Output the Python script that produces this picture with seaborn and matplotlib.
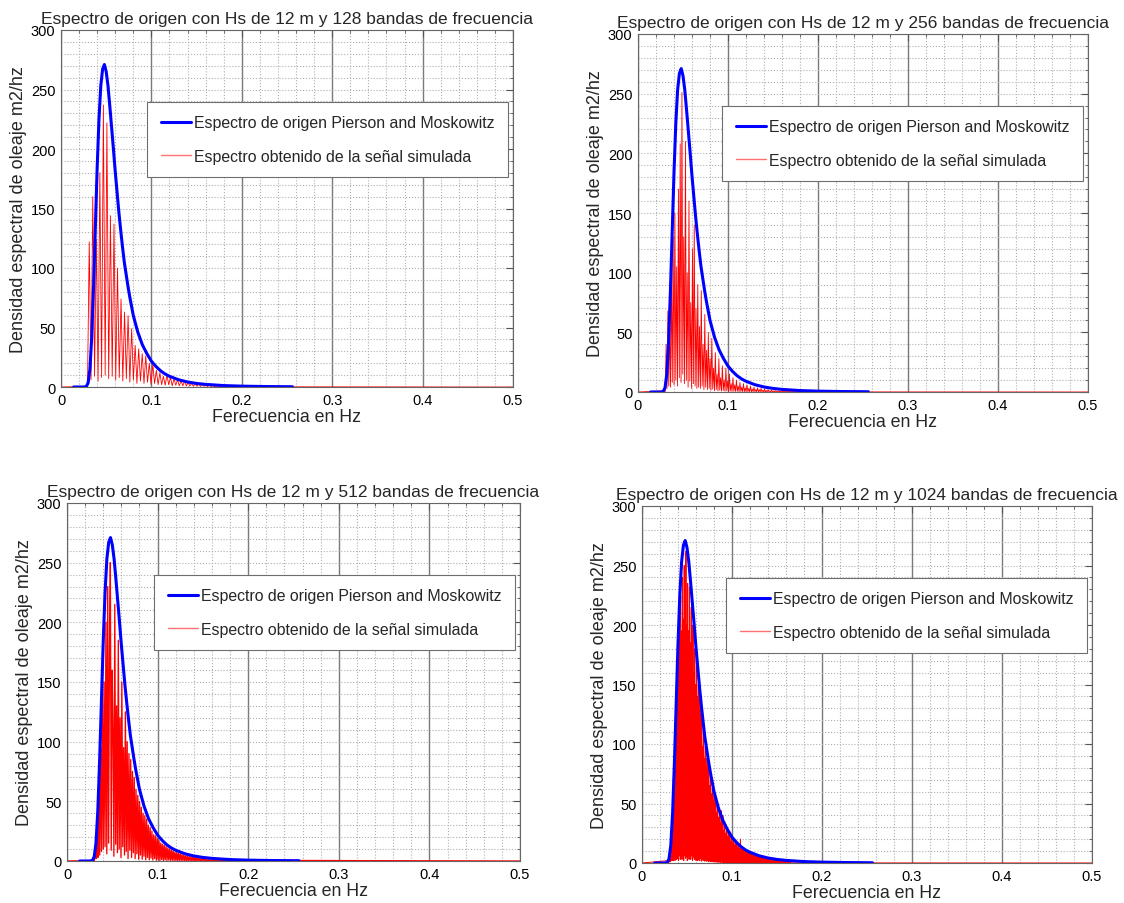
import numpy as np
import pandas as pd
import matplotlib
matplotlib.use("Agg")
import matplotlib.pyplot as plt
import seaborn as sns
from matplotlib.lines import Line2D
from matplotlib.ticker import MultipleLocator

sns.set_theme(style="white")
plt.rcParams["font.family"] = ["Liberation Sans", "DejaVu Sans"]

# Frequency axis upper limit (Nyquist) in Hz
FMAX = 0.5

# Target Pierson-Moskowitz spectrum, Hs = 12 m
pm_frec = [0.014, 0.020, 0.025, 0.028, 0.030, 0.032, 0.034, 0.036, 0.038, 0.040,
           0.042, 0.044, 0.046, 0.048, 0.050, 0.052, 0.054, 0.056, 0.058, 0.060,
           0.062, 0.064, 0.066, 0.068, 0.070, 0.072, 0.074, 0.076, 0.078, 0.080,
           0.085, 0.090, 0.095, 0.100, 0.105, 0.110, 0.115, 0.120, 0.130, 0.140,
           0.150, 0.160, 0.180, 0.200, 0.225, 0.256]
pm_dens = [0.0, 0.0, 0.0, 0.4, 3.5, 15, 42, 84, 134, 184,
           225, 253, 267, 271, 265, 253, 236, 218, 200, 181,
           164, 147, 132, 118, 105, 95, 85, 76, 68, 60,
           46, 35.5, 28, 21.7, 17.3, 13.7, 11, 9.0, 6.1, 4.2,
           3.0, 2.2, 1.2, 0.72, 0.4, 0.22]

# Simulated spectrum, 128 bands: first band index, peak and trough values
sim128_k0 = 7
sim128_picos = [0.5, 122, 160, 124, 180, 237, 222, 144, 137, 100,
                74, 63, 60, 49, 35, 32, 28, 26, 20, 19,
                14, 12, 9, 10, 8, 7, 6, 5, 5, 4,
                3, 3, 2.5, 2, 2, 1.5, 1.2, 1, 0.8, 0.6]
sim128_valles = [0.5, 6, 9, 5, 8, 10, 7, 9, 6, 8,
                 5, 7, 4, 6, 3, 5, 3, 4, 2, 3,
                 2, 2, 1.5, 2, 1, 1.5, 1, 1, 0.8, 0.8,
                 0.6, 0.6, 0.5, 0.5, 0.4, 0.4, 0.3, 0.3, 0.2, 0.2]

# Simulated spectrum, 256 bands
sim256_k0 = 15
sim256_picos = [1, 40, 68, 55, 95, 130, 150, 105, 170, 208,
                251, 130, 210, 100, 160, 75, 120, 140, 70, 90,
                55, 85, 40, 65, 35, 50, 28, 45, 20, 33,
                15, 28, 12, 22, 10, 20, 9, 15, 7, 12,
                6, 10, 5, 8, 4, 7, 3.5, 6, 3, 5,
                2.5, 4, 2, 3.5, 2, 3, 1.5, 2.5, 1.2, 2,
                1, 1.6, 0.9, 1.3, 0.8, 1.1, 0.7, 0.9, 0.6, 0.8,
                0.5, 0.7, 0.4, 0.6, 0.4, 0.5, 0.3, 0.4]
sim256_valles = [0.5, 3, 5, 4, 8, 6, 10, 5, 12, 8,
                 15, 7, 10, 4, 9, 3, 7, 5, 3, 4,
                 3, 5, 2, 4, 2, 3, 1.5, 2.5, 1, 2,
                 1, 1.5, 0.8, 1.2, 0.6, 1, 0.5, 0.8, 0.4, 0.6,
                 0.4, 0.5, 0.3, 0.4, 0.3, 0.3, 0.2, 0.3, 0.2, 0.2,
                 0.2, 0.2, 0.1, 0.2, 0.1, 0.1, 0.1, 0.1, 0.1, 0.1,
                 0.1, 0.1, 0.1, 0.1, 0.1, 0.1, 0.1, 0.1, 0.1, 0.1,
                 0.1, 0.1, 0.1, 0.1, 0.1, 0.1, 0.1, 0.1]

# Simulated spectrum, 512 bands (one value per band)
sim512_k0 = 29
sim512_dens = [0.3, 1, 0.5, 6, 2, 22, 3, 55, 5, 95,
               8, 140, 10, 150, 12, 200, 6, 230, 15, 175,
               250, 9, 160, 110, 4, 215, 14, 130, 7, 185,
               10, 120, 3, 150, 12, 95, 5, 125, 8, 100,
               2, 90, 9, 85, 3, 75, 7, 70, 2, 60,
               6, 55, 1.5, 50, 5, 45, 1.5, 40, 4, 38,
               1, 35, 3, 30, 1, 28, 2.5, 25, 0.8, 22,
               2, 21, 0.6, 19, 1.5, 17, 0.5, 15, 1.2, 14,
               0.4, 13, 1, 12, 0.4, 11, 0.8, 10, 0.3, 9,
               0.6, 8.5, 0.3, 7.5, 0.5, 7, 0.3, 6.5, 0.4, 6,
               0.2, 5.5, 0.3, 5, 0.2, 4.5, 0.3, 4, 0.2, 3.8,
               0.2, 3.5, 0.1, 3.2, 0.2, 3, 0.1, 2.7, 0.1, 2.5,
               0.1, 2.2, 0.1, 2, 0.1, 1.8, 0.1, 1.6, 0.1, 1.4,
               0.1, 1.2, 0.1, 1.0, 0.1, 0.9, 0.1, 0.8, 0.1, 0.6]

# Simulated spectrum, 1024 bands (one value per band)
sim1024_k0 = 60
sim1024_dens = [2, 0.5, 4, 1, 9, 1, 15, 2, 26, 2,
                42, 2, 60, 3, 80, 2, 105, 4, 130, 3,
                150, 4, 172, 2, 190, 6, 200, 3, 225, 5,
                195, 3, 240, 8, 205, 2, 250, 6, 190, 4,
                262, 5, 200, 2, 235, 7, 195, 3, 232, 4,
                185, 3, 215, 6, 175, 2, 200, 5, 160, 3,
                180, 4, 150, 2, 168, 5, 140, 2, 150, 3,
                125, 2, 138, 4, 110, 1.5, 122, 3, 98, 2,
                110, 3, 88, 1.5, 98, 2.5, 80, 1.5, 88, 2,
                72, 1, 80, 2, 65, 1, 72, 1.5, 58, 1,
                63, 1.5, 52, 0.8, 57, 1.2, 46, 0.8, 51, 1,
                42, 0.6, 47, 1, 38, 0.6, 46, 0.8, 34, 0.5,
                44, 0.8, 30, 0.5, 40, 0.6, 27, 0.4, 35, 0.5,
                25, 0.4, 32, 0.5, 22, 0.3, 28, 0.4, 20, 0.3,
                26, 0.4, 18, 0.3, 23, 0.3, 17, 0.3, 21, 0.3,
                15, 0.3, 19, 0.3, 14, 0.2, 17, 0.3, 13, 0.2,
                16, 0.3, 12, 0.2, 20, 0.3, 11, 0.2, 13, 0.2,
                10, 0.2, 12, 0.2, 9, 0.2, 11, 0.2, 8.5, 0.2,
                10, 0.2, 8, 0.1, 9, 0.2, 7, 0.1, 8.5, 0.1,
                6.5, 0.1, 8, 0.1, 6, 0.1, 7, 0.1, 5.5, 0.1,
                6.5, 0.1, 5, 0.1, 6, 0.1, 4.8, 0.1, 5.6, 0.1,
                4.5, 0.1, 5.2, 0.1, 4.2, 0.1, 5, 0.1, 4, 0.1,
                4.6, 0.1, 3.6, 0.1, 4.2, 0.1, 3.3, 0.1, 3.8, 0.1,
                3.1, 0.1, 3.5, 0.1, 2.9, 0.1, 3.2, 0.1, 2.7, 0.1,
                3.0, 0.1, 2.5, 0.1, 2.8, 0.1, 2.3, 0.1, 2.6, 0.1,
                2.1, 0.1, 2.4, 0.1, 1.9, 0.1, 2.2, 0.1, 1.7, 0.1,
                2.0, 0.1, 1.6, 0.1, 1.8, 0.1, 1.4, 0.1, 1.6, 0.1,
                1.2, 0.1, 1.4, 0.1, 1.0, 0.1, 1.2, 0.1, 0.8, 0.1]

bandas = [128, 256, 512, 1024]
titulos = [f"Espectro de origen con Hs de 12 m y {n} bandas de frecuencia" for n in bandas]
leyenda = ["Espectro de origen Pierson and Moskowitz",
           "Espectro obtenido de la señal simulada"]
xticks = [0, 0.1, 0.2, 0.3, 0.4, 0.5]
xtick_labels = ["0", "0.1", "0.2", "0.3", "0.4", "0.5"]
yticks = [0, 50, 100, 150, 200, 250, 300]


def serie_simulada(nbandas, k0, valores, valles=None):
    df = FMAX / nbandas
    k = k0 + np.arange(len(valores))
    if valles is None:
        f = k * df
        s = np.asarray(valores, float)
    else:
        f = np.column_stack([k * df, (k + 0.5) * df]).ravel()
        s = np.column_stack([valores, valles]).ravel()
    f = np.concatenate([[0.0], f, [FMAX]])
    s = np.concatenate([[0.0], s, [0.0]])
    return pd.DataFrame({"f": f, "S": s})


series = [
    serie_simulada(128, sim128_k0, sim128_picos, sim128_valles),
    serie_simulada(256, sim256_k0, sim256_picos, sim256_valles),
    serie_simulada(512, sim512_k0, sim512_dens),
    serie_simulada(1024, sim1024_k0, sim1024_dens),
]
grosor_rojo = [0.6, 0.6, 0.95, 0.7]
pm = pd.DataFrame({"f": pm_frec, "S": pm_dens})

W, H = 1124, 904
cajas = [(61, 31, 513, 388), (638, 35, 1088, 393),
         (67, 504, 520, 862), (642, 507, 1092, 864)]

fig = plt.figure(figsize=(W / 100, H / 100), dpi=100)
fig.patch.set_facecolor("white")

for (l, t, r, b), titulo, sim, lw_sim in zip(cajas, titulos, series, grosor_rojo):
    ax = fig.add_axes([l / W, 1 - b / H, (r - l) / W, (b - t) / H])
    ax.set_facecolor("white")
    ax.set_axisbelow(True)

    sns.lineplot(data=sim, x="f", y="S", ax=ax, color="#ff0000", lw=lw_sim,
                 estimator=None, sort=False, legend=False)
    sns.lineplot(data=pm, x="f", y="S", ax=ax, color="#0000ff", lw=2.2,
                 estimator=None, sort=False, legend=False)

    ax.set_xlim(0, FMAX)
    ax.set_ylim(0, 300)
    ax.set_xticks(xticks, labels=xtick_labels)
    ax.set_yticks(yticks)
    ax.xaxis.set_minor_locator(MultipleLocator(0.02))
    ax.yaxis.set_minor_locator(MultipleLocator(10))

    ax.grid(which="minor", ls=":", color="#b0b0b0", lw=0.8)
    ax.grid(which="major", axis="y", ls=":", color="#b0b0b0", lw=0.8)
    ax.grid(which="major", axis="x", ls="-", color="#7a7a7a", lw=1.0)

    ax.tick_params(which="both", direction="in", top=True, right=True,
                   colors="#555555", labelcolor="black", labelsize=10.5)
    ax.tick_params(which="major", length=5, width=0.8, pad=4)
    ax.tick_params(which="minor", length=2.5, width=0.6)
    for sp in ax.spines.values():
        sp.set_color("#666666")
        sp.set_linewidth(0.8)

    ax.set_title(titulo, fontsize=12.5, pad=5)
    ax.set_xlabel("Ferecuencia en Hz", fontsize=12.8, labelpad=1)
    ax.set_ylabel("Densidad espectral de oleaje m2/hz", fontsize=13, labelpad=3)

    handles = [Line2D([], [], color="#0000ff", lw=2.2),
               Line2D([], [], color="#ff7070", lw=1.0)]
    leg = ax.legend(handles, leyenda, loc="upper right",
                    bbox_to_anchor=(1 - 5 / (r - l), 1 - 72 / (b - t)),
                    borderaxespad=0, fontsize=11.4, frameon=True, fancybox=False,
                    edgecolor="#6e6e6e", framealpha=1, handlelength=1.9,
                    handletextpad=0.2, labelspacing=1.15, borderpad=0.85)
    leg.get_frame().set_linewidth(0.8)

fig.savefig("out.png", dpi=100, facecolor="white")
